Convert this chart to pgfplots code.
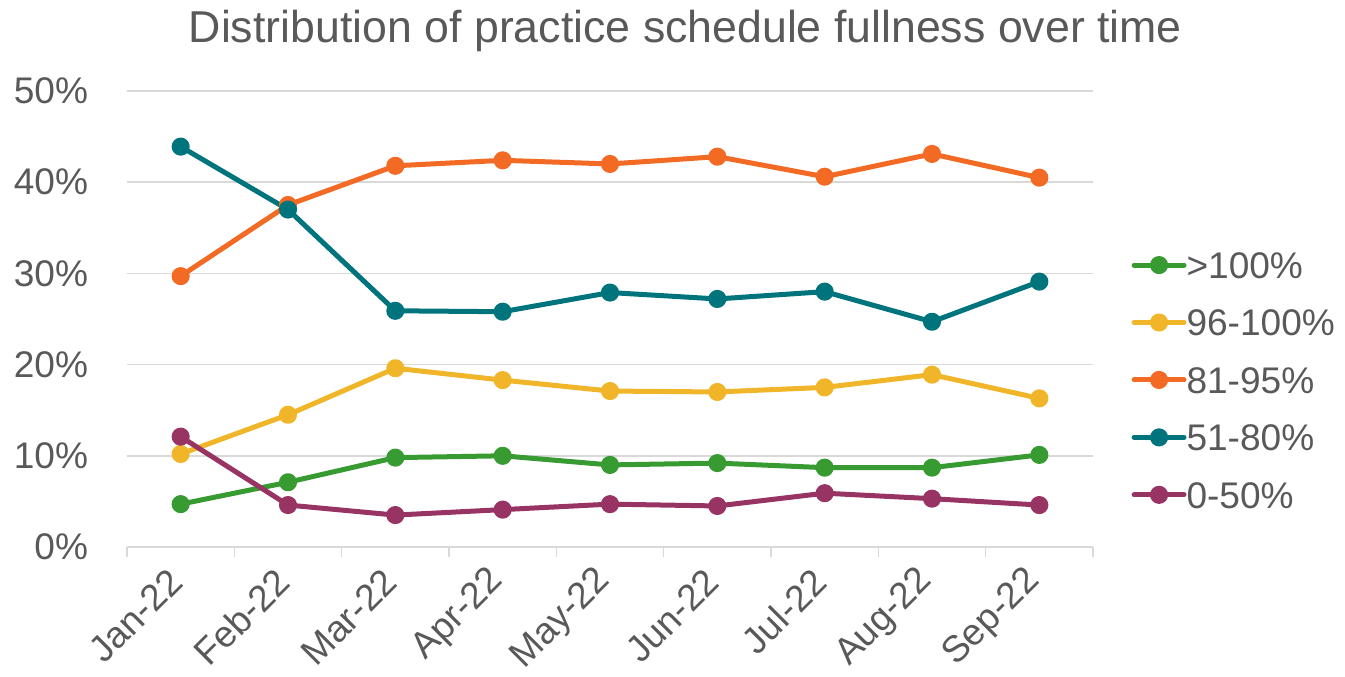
\documentclass[border=0pt]{standalone}
\usepackage{pgfplots}
\pgfplotsset{compat=1.18}
\usepackage{fontspec}
\setmainfont{Liberation Sans}
\definecolor{txtgray}{HTML}{595959}
\definecolor{gridgray}{HTML}{D9D9D9}
\definecolor{cgreen}{HTML}{379B32}
\definecolor{cyellow}{HTML}{F1B52A}
\definecolor{corange}{HTML}{F26A24}
\definecolor{cteal}{HTML}{00747C}
\definecolor{cpurple}{HTML}{983463}
\begin{document}
\begin{tikzpicture}
\useasboundingbox (0,0) rectangle (1008.75pt,-507.75pt);
\begin{axis}[
  at={(95.25pt,-410.25pt)}, anchor=south west,
  scale only axis, width=724.5pt, height=342pt,
  xmin=-0.5, xmax=8.5, ymin=0, ymax=50,
  axis x line*=bottom, axis y line*=left,
  y axis line style={draw=none},
  x axis line style={draw=gridgray, line width=1.1pt},
  xtick={0,...,8},
  xticklabels={Jan-22,Feb-22,Mar-22,Apr-22,May-22,Jun-22,Jul-22,Aug-22,Sep-22},
  minor xtick={-0.5,0.5,...,8.5},
  major x tick style={draw=none},
  minor x tick style={draw=gridgray, line width=1.1pt},
  tick align=outside,
  minor tick length=7.5pt,
  ytick={0,10,...,50},
  yticklabels={0\%,10\%,20\%,30\%,40\%,50\%},
  y tick style={draw=none},
  ymajorgrids, major grid style={draw=gridgray, line width=1.1pt},
  tick label style={font=\fontsize{27.8}{33}\selectfont, text=txtgray},
  yticklabel style={anchor=east, inner sep=0pt, xshift=-24.75pt},
  xticklabel style={xshift=-3.5pt, yshift=-17pt, rotate=45, anchor=east, inner sep=0pt},
  title={Distribution of practice schedule fullness over time},
  title style={at={(0.578,1.1031)}, anchor=base, inner sep=0pt, yshift=-5.25pt,
    font=\fontsize{33.5}{40}\selectfont, text=txtgray},
  every axis plot/.append style={line width=3.75pt, mark=*, mark size=4.9pt, line join=round},
  legend image code/.code={\draw[mark repeat=2,mark phase=2, line cap=round] plot coordinates {(1.9pt,0pt) (20.6pt,0pt) (39.3pt,0pt)};},
  legend style={draw=none, fill=none, at={(1.040,0.6564)}, anchor=north west,
    inner sep=0pt, outer sep=0pt, row sep=17pt,
    font=\fontsize{27.8}{33}\selectfont, text=txtgray,
    nodes={inner sep=0pt, text height=23pt, text depth=3.08pt},
    /tikz/every even column/.append style={column sep=0pt}},
  legend cell align=left,
]
\addplot[color=cgreen] coordinates {(0,4.7) (1,7.1) (2,9.8) (3,10.0) (4,9.0) (5,9.2) (6,8.7) (7,8.7) (8,10.1)};
\addlegendentry{>100\%}
\addplot[color=cyellow] coordinates {(0,10.2) (1,14.5) (2,19.6) (3,18.3) (4,17.1) (5,17.0) (6,17.5) (7,18.9) (8,16.3)};
\addlegendentry{96-100\%}
\addplot[color=corange] coordinates {(0,29.7) (1,37.5) (2,41.8) (3,42.4) (4,42.0) (5,42.8) (6,40.6) (7,43.1) (8,40.5)};
\addlegendentry{81-95\%}
\addplot[color=cteal] coordinates {(0,43.9) (1,37.0) (2,25.9) (3,25.8) (4,27.9) (5,27.2) (6,28.0) (7,24.7) (8,29.1)};
\addlegendentry{51-80\%}
\addplot[color=cpurple] coordinates {(0,12.1) (1,4.6) (2,3.5) (3,4.1) (4,4.7) (5,4.5) (6,5.9) (7,5.3) (8,4.6)};
\addlegendentry{0-50\%}
\end{axis}
\end{tikzpicture}
\end{document}
